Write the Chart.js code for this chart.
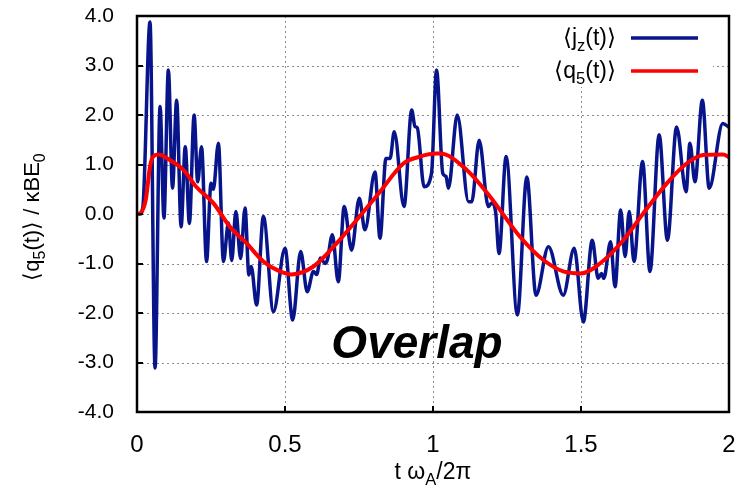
<!DOCTYPE html>
<html>
<head>
<meta charset="utf-8">
<script src="https://cdn.jsdelivr.net/npm/chart.js@4"></script>
<style>
  html, body { margin: 0; padding: 0; background: #fff; }
  #wrap { width: 746px; height: 488px; }
</style>
</head>
<body>
<div id="wrap"><canvas id="grafik" width="746" height="488"></canvas></div>
<script>
// time axis in units of t*omega_A/2pi
const jzT = [0, 0.01, 0.02, 0.044, 0.061, 0.078, 0.091, 0.106, 0.12, 0.134, 0.149, 0.163, 0.177, 0.193, 0.205, 0.218, 0.235, 0.25, 0.258, 0.275, 0.292, 0.309, 0.32, 0.334, 0.35, 0.365, 0.378, 0.386, 0.404, 0.427, 0.461, 0.5, 0.526, 0.553, 0.575, 0.596, 0.607, 0.62, 0.635, 0.643, 0.66, 0.68, 0.7, 0.725, 0.751, 0.77, 0.804, 0.821, 0.841, 0.855, 0.869, 0.902, 0.928, 0.939, 0.947, 0.97, 0.995, 1.012, 1.033, 1.044, 1.052, 1.082, 1.12, 1.131, 1.156, 1.187, 1.198, 1.212, 1.223, 1.247, 1.285, 1.317, 1.348, 1.39, 1.44, 1.477, 1.508, 1.538, 1.558, 1.569, 1.577, 1.6, 1.615, 1.634, 1.649, 1.663, 1.679, 1.708, 1.733, 1.764, 1.792, 1.823, 1.855, 1.868, 1.885, 1.91, 1.933, 1.979, 2.0];
const jzV = [0, 0, 0.15, 3.88, -3.11, 2.17, -0.08, 2.91, 0.52, 2.30, -0.26, 1.36, -0.19, 2.0, 0.65, 1.36, -0.96, 0.62, 0.5, 1.43, -0.96, -0.18, -0.94, 0.05, -0.9, 0.12, -1.23, -1.06, -1.84, -0.05, -1.97, -0.69, -2.14, -0.76, -1.57, -1.16, -1.22, -0.89, -1.0, -0.93, -0.42, -1.37, 0.15, -0.73, 0.32, -0.32, 0.85, -0.49, 1.12, 1.12, 1.66, 0.15, 2.1, 1.77, 1.74, 0.55, 0.82, 2.91, 0.82, 0.76, 0.52, 2.0, 0.25, 0.25, 1.49, 0.15, 0.22, 0.02, -0.8, 1.16, -2.04, 0.75, -1.64, -0.66, -1.64, -0.69, -2.18, -0.53, -1.3, -1.2, -1.3, -0.56, -1.47, 0.08, -0.86, 0.05, -0.96, 1.06, -1.16, 1.6, -0.53, 1.76, 0.45, 1.43, 0.65, 2.3, 0.52, 1.83, 1.75];

const q5T = [0, 0.012, 0.03, 0.044, 0.055, 0.072, 0.111, 0.157, 0.2, 0.258, 0.314, 0.37, 0.427, 0.483, 0.522, 0.596, 0.675, 0.742, 0.821, 0.9, 0.956, 1.012, 1.024, 1.114, 1.193, 1.294, 1.373, 1.44, 1.5, 1.564, 1.643, 1.71, 1.79, 1.857, 1.913, 1.98, 2.0];
const q5V = [0, 0.02, 0.3, 0.96, 1.16, 1.2, 1.09, 0.89, 0.55, 0.22, -0.26, -0.59, -0.96, -1.16, -1.22, -1.06, -0.59, -0.12, 0.45, 1.02, 1.16, 1.22, 1.22, 0.89, 0.35, -0.46, -0.93, -1.16, -1.2, -1.0, -0.53, 0.01, 0.62, 1.02, 1.19, 1.2, 1.15];

const xTicks = [0, 0.5, 1, 1.5, 2];
const yTicks = [-4, -3, -2, -1, 0, 1, 2, 3, 4];

const biru = '#08148a';
const merah = '#ff0000';
const huruf = '"Liberation Sans", Arial, Helvetica, sans-serif';

function keTitik(t, v) {
  return t.map((x, i) => ({ x: x, y: v[i] }));
}

// teks dengan subskrip: bagian = [[teks, subskrip?], ...]
function lebarTeks(ctx, bagian, ukuran) {
  let w = 0;
  bagian.forEach(([s, sub]) => {
    ctx.font = (sub ? ukuran * 0.72 : ukuran) + 'px ' + huruf;
    w += ctx.measureText(s).width;
  });
  return w;
}
function tulisTeks(ctx, bagian, x, y, ukuran) {
  ctx.textBaseline = 'alphabetic';
  ctx.textAlign = 'left';
  bagian.forEach(([s, sub]) => {
    ctx.font = (sub ? ukuran * 0.72 : ukuran) + 'px ' + huruf;
    ctx.fillText(s, x, sub ? y + ukuran * 0.25 : y);
    x += ctx.measureText(s).width;
  });
}

const labelJz = [['\u27E8j'], ['z', true], ['(t)\u27E9']];
const labelQ5 = [['\u27E8q'], ['5', true], ['(t)\u27E9']];
const judulY = [['\u27E8q'], ['5', true], ['(t)\u27E9 / \u03BABE'], ['0', true]];
const judulX = [['t \u03C9'], ['A', true], ['/2\u03C0']];

// grid titik-titik di belakang kurva
const gridPlugin = {
  id: 'gridTitik',
  beforeDatasetsDraw(chart) {
    const { ctx, chartArea: a, scales: { x, y } } = chart;
    ctx.save();
    ctx.strokeStyle = '#8a8a8a';
    ctx.lineWidth = 1;
    ctx.setLineDash([2, 3]);
    ctx.beginPath();
    xTicks.slice(1, -1).forEach(v => {
      const px = Math.round(x.getPixelForValue(v)) + 0.5;
      ctx.moveTo(px, a.top);
      ctx.lineTo(px, a.bottom);
    });
    yTicks.slice(1, -1).forEach(v => {
      const py = Math.round(y.getPixelForValue(v)) + 0.5;
      ctx.moveTo(a.left, py);
      ctx.lineTo(a.right, py);
    });
    ctx.stroke();
    ctx.restore();
  }
};

// bingkai, tick ke dalam, legenda, judul sumbu, tulisan Overlap
const hiasanPlugin = {
  id: 'hiasan',
  afterDraw(chart) {
    const { ctx, chartArea: a, scales: { x, y } } = chart;
    ctx.save();

    // legenda dengan latar putih
    ctx.fillStyle = '#fff';
    ctx.fillRect(520, a.top + 1, 193, 70);
    [[labelJz, biru, 45], [labelQ5, merah, 78]].forEach(([lbl, warna, yb]) => {
      const w = lebarTeks(ctx, lbl, 23);
      ctx.fillStyle = '#000';
      tulisTeks(ctx, lbl, 616 - w, yb, 23);
      ctx.strokeStyle = warna;
      ctx.lineWidth = 3.5;
      ctx.beginPath();
      ctx.moveTo(631, yb - 7);
      ctx.lineTo(698, yb - 7);
      ctx.stroke();
    });

    // tick ke dalam
    ctx.strokeStyle = '#000';
    ctx.lineWidth = 2;
    ctx.beginPath();
    xTicks.slice(1, -1).forEach(v => {
      const px = Math.round(x.getPixelForValue(v));
      ctx.moveTo(px, a.bottom);
      ctx.lineTo(px, a.bottom - 6);
    });
    yTicks.slice(1, -1).forEach(v => {
      const py = Math.round(y.getPixelForValue(v));
      ctx.moveTo(a.left, py);
      ctx.lineTo(a.left + 6, py);
    });
    ctx.stroke();

    // bingkai
    ctx.lineWidth = 2.5;
    ctx.strokeRect(a.left, a.top, a.right - a.left, a.bottom - a.top);

    // judul sumbu x
    const wx = lebarTeks(ctx, judulX, 23);
    ctx.fillStyle = '#000';
    tulisTeks(ctx, judulX, (a.left + a.right) / 2 - wx / 2, 479, 23);

    // judul sumbu y (diputar)
    ctx.save();
    ctx.translate(39, (a.top + a.bottom) / 2 + 3);
    ctx.rotate(-Math.PI / 2);
    const wy = lebarTeks(ctx, judulY, 22);
    tulisTeks(ctx, judulY, -wy / 2, 0, 22);
    ctx.restore();

    // tulisan Overlap
    ctx.font = 'italic bold 46px ' + huruf;
    ctx.textAlign = 'center';
    ctx.textBaseline = 'alphabetic';
    ctx.fillText('Overlap', 417, 358);

    ctx.restore();
  }
};

const ctx = document.getElementById('grafik').getContext('2d');
new Chart(ctx, {
  type: 'line',
  data: {
    datasets: [{
      label: '\u27E8jz(t)\u27E9',
      data: keTitik(jzT, jzV),
      borderColor: biru,
      borderWidth: 3.5,
      pointRadius: 0,
      fill: false,
      cubicInterpolationMode: 'monotone',
      order: 2
    }, {
      label: '\u27E8q5(t)\u27E9',
      data: keTitik(q5T, q5V),
      borderColor: merah,
      borderWidth: 4,
      pointRadius: 0,
      fill: false,
      cubicInterpolationMode: 'monotone',
      order: 1
    }]
  },
  options: {
    responsive: false,
    animation: false,
    events: [],
    layout: { padding: { top: 16, right: 17, left: 0, bottom: 0 } },
    plugins: {
      legend: { display: false },
      tooltip: { enabled: false },
      title: { display: false }
    },
    scales: {
      x: {
        type: 'linear',
        min: 0,
        max: 2,
        afterFit(s) { s.height = 76; s.paddingLeft = 0; s.paddingRight = 0; },
        afterBuildTicks(s) { s.ticks = xTicks.map(v => ({ value: v })); },
        grid: { display: false },
        border: { display: false },
        ticks: {
          padding: 11,
          color: '#000',
          font: { family: huruf, size: 24 },
          callback: v => String(v),
          maxRotation: 0
        }
      },
      y: {
        min: -4,
        max: 4,
        afterFit(s) { s.width = 137; s.paddingTop = 0; s.paddingBottom = 0; },
        afterBuildTicks(s) { s.ticks = yTicks.map(v => ({ value: v })); },
        grid: { display: false },
        border: { display: false },
        ticks: {
          padding: 15,
          color: '#000',
          font: { family: huruf, size: 21 },
          callback: v => v.toFixed(1)
        }
      }
    }
  },
  plugins: [gridPlugin, hiasanPlugin]
});
</script>
</body>
</html>
